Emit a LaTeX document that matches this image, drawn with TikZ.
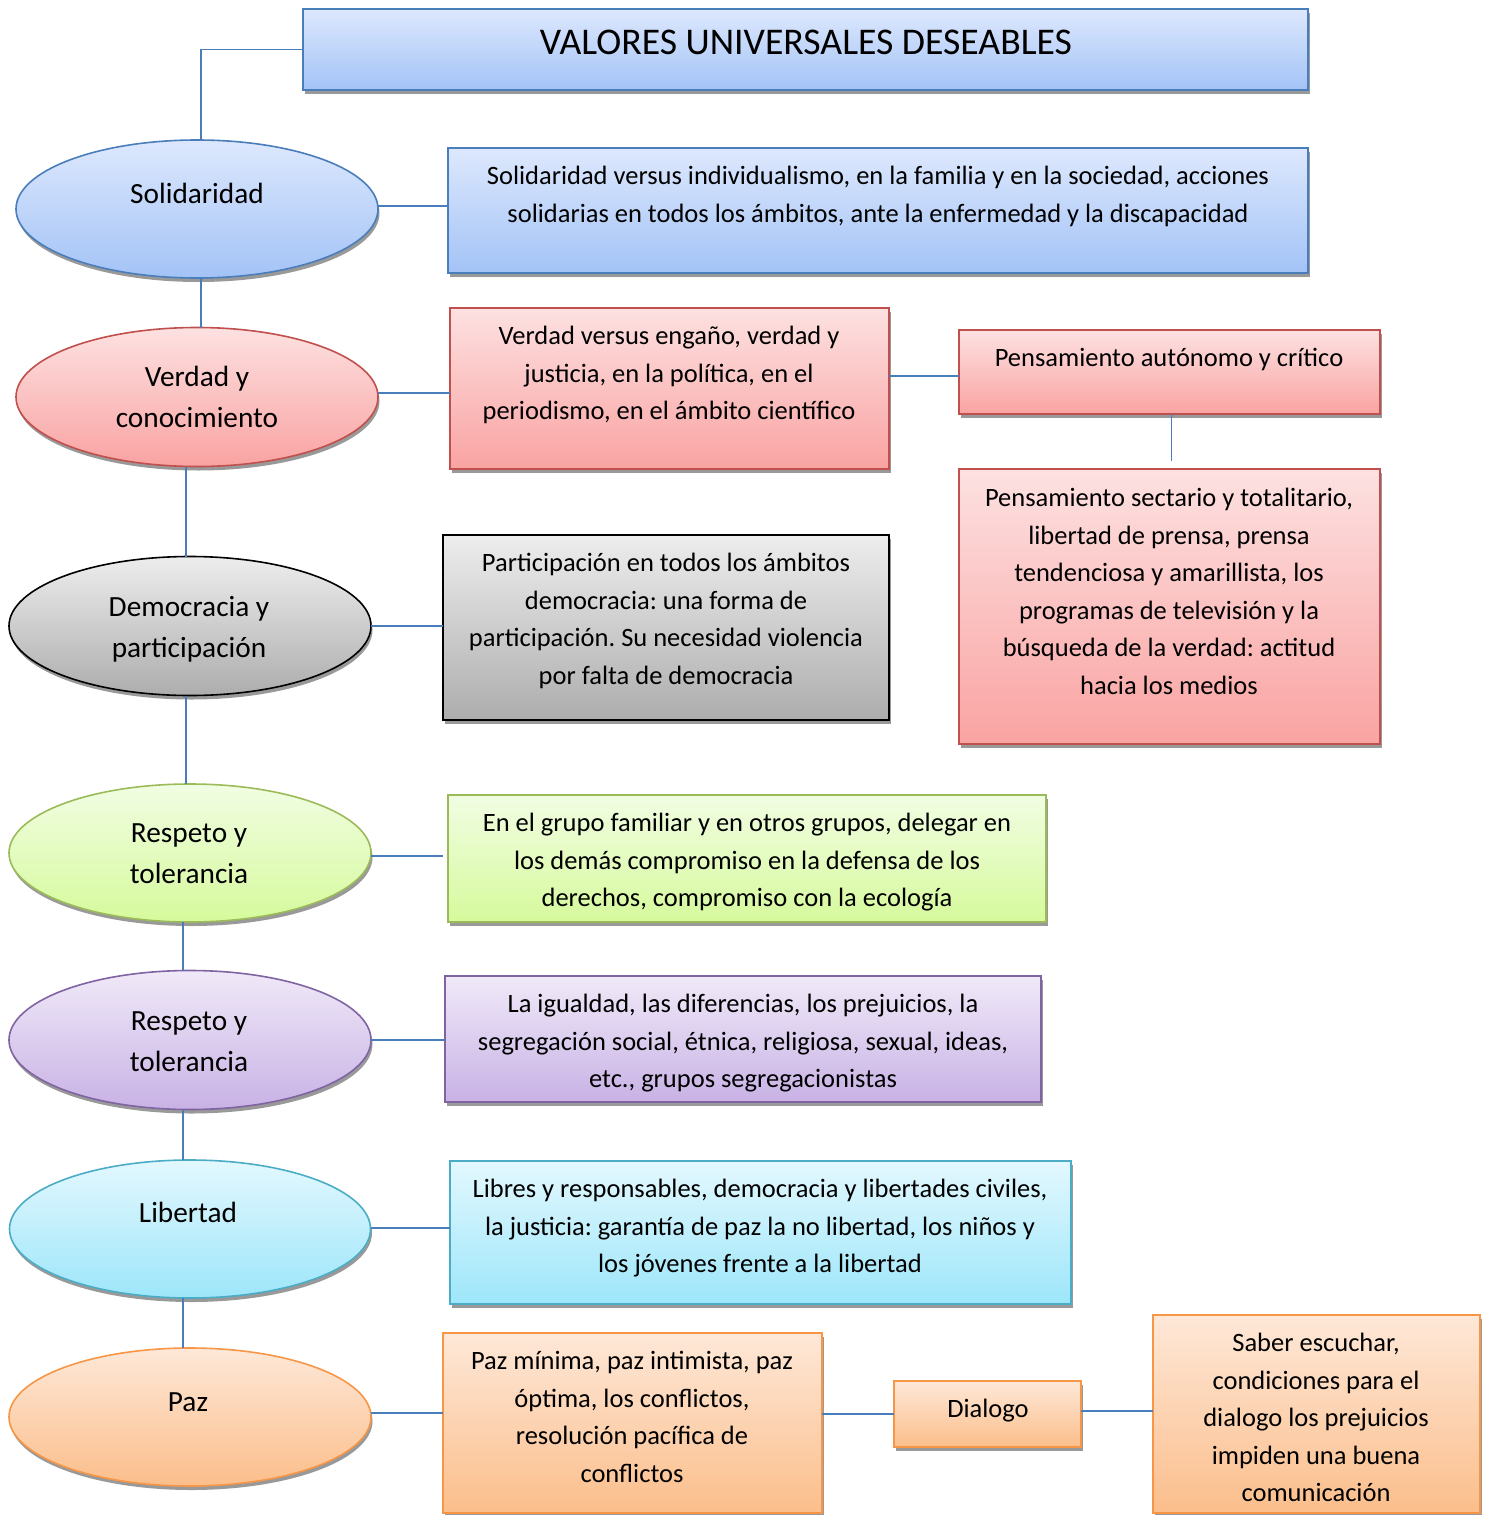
\documentclass[tikz,border=0pt]{standalone}
\usepackage{fontspec}
\setmainfont{Carlito}
\frenchspacing
\usetikzlibrary{shapes.geometric,shadows}
\definecolor{conn}{HTML}{4A7EBB}
\definecolor{bT}{HTML}{DDE8FD}\definecolor{bB}{HTML}{A3C3F6}\definecolor{bD}{HTML}{4A7EBB}
\definecolor{rT}{HTML}{FDE1E1}\definecolor{rB}{HTML}{F9A3A2}\definecolor{rD}{HTML}{C0504D}
\definecolor{gT}{HTML}{EDEDED}\definecolor{gB}{HTML}{ADADAD}\definecolor{gD}{HTML}{000000}
\definecolor{lT}{HTML}{F1FDE3}\definecolor{lB}{HTML}{D6FA9C}\definecolor{lD}{HTML}{9BBB59}
\definecolor{pT}{HTML}{F0E9F8}\definecolor{pB}{HTML}{C8B2E5}\definecolor{pD}{HTML}{8064A2}
\definecolor{cT}{HTML}{E3F8FE}\definecolor{cB}{HTML}{9DE6FA}\definecolor{cD}{HTML}{4BACC6}
\definecolor{oT}{HTML}{FEE8D8}\definecolor{oB}{HTML}{FBBE8B}\definecolor{oD}{HTML}{F79646}
\tikzset{
  x=1pt,y=-1pt,
  shp/.style={general shadow={fill=black!40,shadow xshift=1.5pt,shadow yshift=-4pt},line width=1.6pt,inner sep=0pt,outer sep=0pt},
  rbox/.style={shp,rectangle,anchor=north west},
  ell/.style={shp,ellipse,anchor=center},
  blue/.style={draw=bD,top color=bT,bottom color=bB},
  red/.style={draw=rD,top color=rT,bottom color=rB},
  grey/.style={draw=gD,top color=gT,bottom color=gB},
  green/.style={draw=lD,top color=lT,bottom color=lB},
  purple/.style={draw=pD,top color=pT,bottom color=pB},
  cyan/.style={draw=cD,top color=cT,bottom color=cB},
  orange/.style={draw=oD,top color=oT,bottom color=oB},
  txt/.style={anchor=north,inner sep=0pt,align=center,font=\fontsize{26.5}{37.5}\selectfont},
  etxt/.style={anchor=north,inner sep=0pt,align=center,font=\fontsize{29.3}{41}\selectfont},
  link/.style={draw=conn,line width=1.6pt}
}
\begin{document}
\begin{tikzpicture}
\useasboundingbox (0,0) rectangle (1484,1515);
% title
\node[rbox,blue,minimum width=1005,minimum height=81] (title) at (303,9) {};
\node[anchor=base,inner sep=0pt,font=\fontsize{37.7}{45}\selectfont] (ttl) at (806,54) {VALORES UNIVERSALES DESEABLES};
% ellipses
\node[ell,blue,minimum width=362,minimum height=138] (sol) at (197,209) {};
\node[ell,red,minimum width=362,minimum height=139] (ver) at (197,397) {};
\node[ell,grey,minimum width=362,minimum height=139] (dem) at (190,626) {};
\node[ell,green,minimum width=362,minimum height=138] (res1) at (190,853) {};
\node[ell,purple,minimum width=362,minimum height=139] (res2) at (190,1040) {};
\node[ell,cyan,minimum width=361,minimum height=138] (lib) at (190,1229) {};
\node[ell,orange,minimum width=362,minimum height=138] (paz) at (190,1417) {};
\node[etxt] (solt) at (197,174.7) {\strut Solidaridad};
\node[etxt] (vert) at (197,357.7) {\strut Verdad y\\conocimiento};
\node[etxt] (demt) at (189,587.7) {\strut Democracia y\\participación};
\node[etxt] (res1t) at (189,813.7) {\strut Respeto y\\tolerancia};
\node[etxt] (res2t) at (189,1001.7) {\strut Respeto y\\tolerancia};
\node[etxt] (libt) at (188,1193.7) {\strut Libertad};
\node[etxt] (pazt) at (188,1382.7) {\strut Paz};
% boxes
\node[rbox,blue,minimum width=860,minimum height=125] (b1) at (448,148) {};
\node[txt] (b1t) at (878,158.5) {\strut Solidaridad versus individualismo, en la familia y en la sociedad, acciones\\solidarias en todos los ámbitos, ante la enfermedad y la discapacidad};
\node[rbox,red,minimum width=439,minimum height=161] (b2) at (450,308) {};
\node[txt] (b2t) at (669,318.5) {\strut Verdad versus engaño, verdad y\\justicia, en la política, en el\\periodismo, en el ámbito científico};
\node[rbox,red,minimum width=421,minimum height=84] (b3) at (959,330) {};
\node[txt] (b3t) at (1169,340.5) {\strut Pensamiento autónomo y crítico};
\node[rbox,red,minimum width=421,minimum height=275] (b4) at (959,469) {};
\node[txt] (b4t) at (1169,480.5) {\strut Pensamiento sectario y totalitario,\\libertad de prensa, prensa\\tendenciosa y amarillista, los\\programas de televisión y la\\búsqueda de la verdad: actitud\\hacia los medios};
\node[rbox,grey,minimum width=446,minimum height=185] (b5) at (443,535) {};
\node[txt] (b5t) at (666,545.5) {\strut Participación en todos los ámbitos\\democracia: una forma de\\participación. Su necesidad violencia\\por falta de democracia};
\node[rbox,green,minimum width=598,minimum height=127] (b6) at (448,795) {};
\node[txt] (b6t) at (747,805.5) {\strut En el grupo familiar y en otros grupos, delegar en\\los demás compromiso en la defensa de los\\derechos, compromiso con la ecología};
\node[rbox,purple,minimum width=596,minimum height=126] (b7) at (445,976) {};
\node[txt] (b7t) at (743,986.5) {\strut La igualdad, las diferencias, los prejuicios, la\\segregación social, étnica, religiosa, sexual, ideas,\\etc., grupos segregacionistas};
\node[rbox,cyan,minimum width=621,minimum height=143] (b8) at (450,1161) {};
\node[txt] (b8t) at (760,1171.5) {\strut Libres y responsables, democracia y libertades civiles,\\la justicia: garantía de paz la no libertad, los niños y\\los jóvenes frente a la libertad};
\node[rbox,orange,minimum width=379,minimum height=180] (b9) at (443,1333) {};
\node[txt] (b9t) at (632,1343.5) {\strut Paz mínima, paz intimista, paz\\óptima, los conflictos,\\resolución pacífica de\\conflictos};
\node[rbox,orange,minimum width=187,minimum height=66] (b10) at (894,1381) {};
\node[txt] (b10t) at (988,1391.5) {\strut Dialogo};
\node[rbox,orange,minimum width=327,minimum height=198] (b11) at (1153,1315) {};
\node[txt] (b11t) at (1316,1325.5) {\strut Saber escuchar,\\condiciones para el\\dialogo los prejuicios\\impiden una buena\\comunicación};
% connectors
\draw[link] (title.west) -| ([xshift=4pt]sol.north);
\draw[link] ([xshift=4pt]sol.south) -- ([xshift=4pt]ver.north);
\draw[link] ([xshift=-11pt]ver.south) -- ([xshift=-4pt]dem.north);
\draw[link] ([xshift=-4pt]dem.south) -- ([xshift=-4pt]res1.north);
\draw[link] ([xshift=-7pt]res1.south) -- ([xshift=-7pt]res2.north);
\draw[link] ([xshift=-7pt]res2.south) -- ([xshift=-7pt]lib.north);
\draw[link] ([xshift=-7pt]lib.south) -- ([xshift=-7pt]paz.north);
\draw[link] ([yshift=3pt]sol.east) -- ([yshift=3pt]sol.east -| b1.west);
\draw[link] ([yshift=4pt]ver.east) -- ([yshift=4pt]ver.east -| b2.west);
\draw[link] (dem.east) -- (dem.east -| b5.west);
\draw[link] ([yshift=-3pt]res1.east) -- ([yshift=-3pt,xshift=-5pt]res1.east -| b6.west);
\draw[link] (res2.east) -- (res2.east -| b7.west);
\draw[link] ([yshift=1pt]lib.east) -- ([yshift=1pt]lib.east -| b8.west);
\draw[link] ([yshift=4pt]paz.east) -- ([yshift=4pt]paz.east -| b9.west);
\draw[link] ([yshift=12.5pt]b2.east) -- ([yshift=12.5pt]b2.east -| b3.west);
\draw[link] ([xshift=2pt]b3.south) -- ([xshift=2pt,yshift=8pt]b4.north);
\draw[link] (b10.west -| b9.east) -- (b10.west);
\draw[link] ([yshift=3pt]b10.east) -- ([yshift=3pt]b10.east -| b11.west);
\end{tikzpicture}
\end{document}
